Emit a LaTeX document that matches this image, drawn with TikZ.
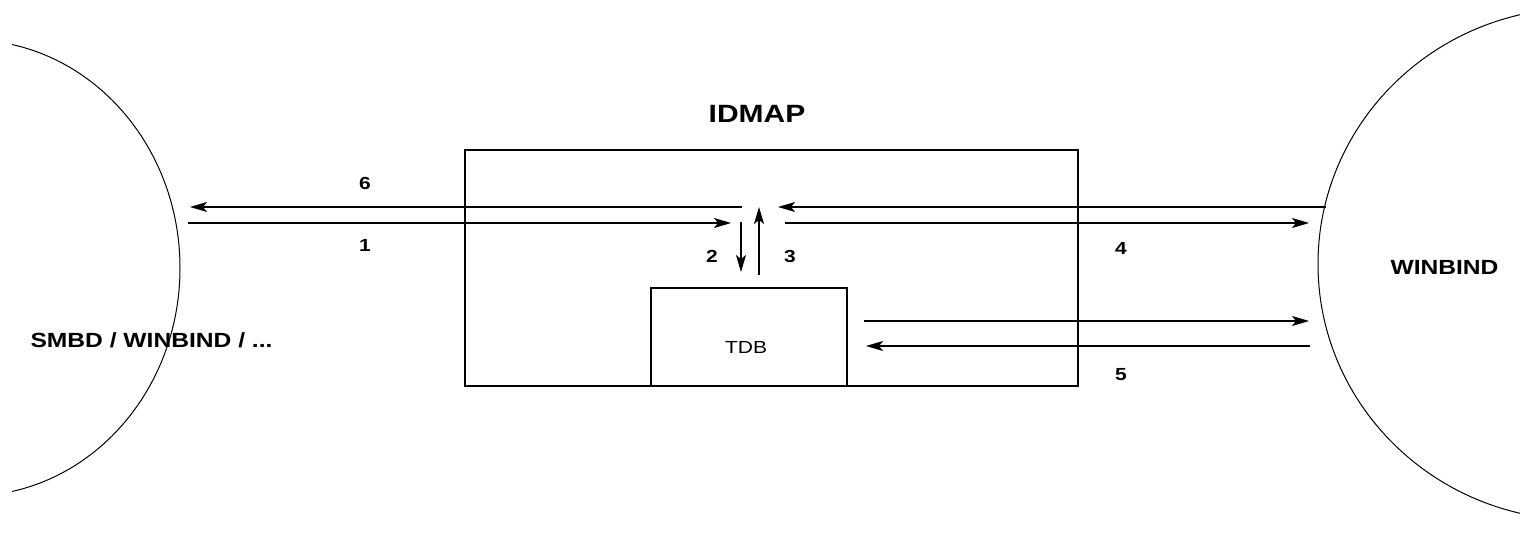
\documentclass[tikz,border=0pt]{standalone}
\usepackage{fontspec}
\setmainfont{Liberation Sans}[FakeStretch=1.2]
\usetikzlibrary{arrows.meta,shapes.geometric}
\begin{document}
\begin{tikzpicture}[x=1pt,y=-1pt,
  conn/.style={line width=1.3pt,-{Stealth[length=17pt,width=10pt,inset=4pt]}},
  boxstyle/.style={draw,line width=1.3pt,inner sep=0pt},
  lbl/.style={anchor=base,inner sep=0pt,font=\bfseries\fontsize{17.5}{20}\selectfont},
  big/.style={anchor=base,inner sep=0pt,font=\bfseries\fontsize{20.5}{24}\selectfont},
  world/.style={draw,ellipse,line width=1pt,inner sep=0pt}]
\useasboundingbox (0,0) rectangle (1520,534);
\fill[white] (0,0) rectangle (1520,534);
% worlds
\begin{scope}
\clip (12,0) rectangle (1520,534);
\node[world,minimum width=420pt,minimum height=456pt] (smbdw) at (-30,268) {};
\node[world,minimum width=524pt,minimum height=512pt] (winw) at (1580,264) {};
\end{scope}
\node[big] (smbd) at (151.5,348) {SMBD / WINBIND / ...};
\node[big] (winbind) at (1444.5,275) {WINBIND};
% IDMAP box
\node[boxstyle,minimum width=613pt,minimum height=236pt] (idmap) at (771.5,268) {};
\node[anchor=base,inner sep=0pt,font=\bfseries\fontsize{25}{30}\selectfont] (idmaplbl) at (757,123) {IDMAP};
\node[boxstyle,minimum width=196pt,minimum height=98pt] (tdb) at (749,337) {};
\node[anchor=base,inner sep=0pt,font=\fontsize{17.5}{21}\selectfont] (tdblbl) at (746,354) {TDB};
% coordinates
\coordinate (a6s) at (742,207);
\coordinate (a6e) at (190,207);
\coordinate (a1s) at (188,223);
\coordinate (a1e) at (731,223);
\coordinate (a2s) at (741,222);
\coordinate (a2e) at (741,272);
\coordinate (a3s) at (759,275);
\coordinate (a3e) at (759,207);
\coordinate (r1s) at (1326,207);
\coordinate (r1e) at (778,207);
\coordinate (r2s) at (785,223);
\coordinate (r2e) at (1309,223);
\coordinate (t1s) at (864,321);
\coordinate (t1e) at (1309,321);
\coordinate (t2s) at (1310,346);
\coordinate (t2e) at (866,346);
% connectors
\draw[conn] (a6s) -- (a6e);
\draw[conn] (a1s) -- (a1e);
\draw[conn] (a2s) -- (a2e);
\draw[conn] (a3s) -- (a3e);
\draw[conn] (r1s) -- (r1e);
\draw[conn] (r2s) -- (r2e);
\draw[conn] (t1s) -- (t1e);
\draw[conn] (t2s) -- (t2e);
% labels
\node[lbl] (n6) at (365,190) {6};
\node[lbl] (n1) at (365,252) {1};
\node[lbl] (n2) at (712,263) {2};
\node[lbl] (n3) at (790,263) {3};
\node[lbl] (n4) at (1121,255) {4};
\node[lbl] (n5) at (1121,380) {5};
\end{tikzpicture}
\end{document}
